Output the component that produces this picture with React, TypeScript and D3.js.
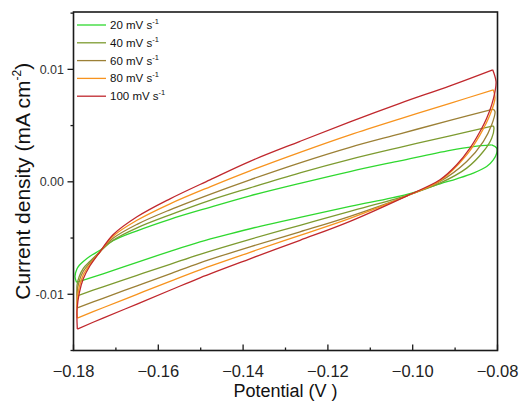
import React from 'react';
import * as d3 from 'd3';

type Pt = [number, number];

const scanRates = ['20', '40', '60', '80', '100'];
const colors = ['#2fd82f', '#7d9b30', '#9c8036', '#f7931e', '#c0282d'];
const xTicks = [-0.18, -0.16, -0.14, -0.12, -0.1, -0.08];
const xMinorTicks = [-0.17, -0.15, -0.13, -0.11, -0.09];
const yTicks = [-0.01, 0, 0.01];
const yMinorTicks = [-0.015, -0.005, 0.005, 0.015];

// 20 mV/s
const cv20Forward: Pt[] = [
  [-0.17929, -0.008933], [-0.17304, -0.008178], [-0.16502, -0.007156], [-0.15724, -0.006178],
  [-0.15017, -0.005333], [-0.14309, -0.004622], [-0.13601, -0.003956], [-0.12658, -0.003156],
  [-0.11479, -0.002178], [-0.10134, -0.001111], [-0.09356, -0.000178], [-0.08962, 0.000267],
  [-0.08571, 0.000773], [-0.08255, 0.00136], [-0.08099, 0.001956], [-0.08019, 0.002551],
  [-0.08019, 0.002996], [-0.08137, 0.003289],
];
const cv20Reverse: Pt[] = [
  [-0.08137, 0.003289], [-0.08571, 0.003138], [-0.0912, 0.0028], [-0.103, 0.001867],
  [-0.11479, 0.000916], [-0.12658, -0.000133], [-0.13837, -0.001244], [-0.14781, -0.002267],
  [-0.15724, -0.003333], [-0.16502, -0.004356], [-0.17068, -0.005244], [-0.17375, -0.006089],
  [-0.17611, -0.006622], [-0.17769, -0.007084], [-0.17863, -0.007422], [-0.17917, -0.007733],
  [-0.17965, -0.008418], [-0.17929, -0.008933],
];
// 40 mV/s
const cv40Forward: Pt[] = [
  [-0.1791, -0.010133], [-0.17304, -0.009333], [-0.16502, -0.008311], [-0.15724, -0.007333],
  [-0.15017, -0.006444], [-0.13837, -0.005111], [-0.12658, -0.003867], [-0.11479, -0.002622],
  [-0.10134, -0.0012], [-0.09356, -0.000116], [-0.08726, 0.001218], [-0.08335, 0.002693],
  [-0.08137, 0.003884], [-0.08083, 0.004773], [-0.08099, 0.004978],
];
const cv40Reverse: Pt[] = [
  [-0.08099, 0.004978], [-0.0912, 0.004089], [-0.103, 0.003067], [-0.11479, 0.002],
  [-0.12658, 0.0008], [-0.13837, -0.000533], [-0.14781, -0.001644], [-0.15724, -0.002933],
  [-0.16502, -0.004089], [-0.17068, -0.0052], [-0.17375, -0.006222], [-0.17611, -0.007067],
  [-0.17769, -0.007689], [-0.17863, -0.0084], [-0.17917, -0.0092], [-0.1791, -0.010133],
];
// 60 mV/s
const cv60Forward: Pt[] = [
  [-0.1791, -0.0112], [-0.17304, -0.010356], [-0.16502, -0.009244], [-0.15724, -0.008178],
  [-0.15017, -0.0072], [-0.13837, -0.005778], [-0.12658, -0.004444], [-0.11479, -0.003067],
  [-0.10134, -0.001244], [-0.09356, 0.000027], [-0.08726, 0.001804], [-0.08335, 0.003582],
  [-0.08137, 0.005067], [-0.08059, 0.006249], [-0.08099, 0.006462],
];
const cv60Reverse: Pt[] = [
  [-0.08099, 0.006462], [-0.0912, 0.005467], [-0.103, 0.004267], [-0.11479, 0.003067],
  [-0.12658, 0.001689], [-0.13837, 0.000178], [-0.14781, -0.001111], [-0.15724, -0.002489],
  [-0.16502, -0.003778], [-0.17068, -0.005022], [-0.17375, -0.006222], [-0.17611, -0.0072],
  [-0.17769, -0.007956], [-0.17863, -0.0088], [-0.17917, -0.009867], [-0.1791, -0.0112],
];
// 80 mV/s
const cv80Forward: Pt[] = [
  [-0.1791, -0.012116], [-0.17304, -0.0112], [-0.16502, -0.01], [-0.15724, -0.008844],
  [-0.15017, -0.007822], [-0.13837, -0.006267], [-0.12658, -0.004756], [-0.11479, -0.003244],
  [-0.10134, -0.001244], [-0.09356, 0.000089], [-0.08726, 0.0024], [-0.08412, 0.004178],
  [-0.08177, 0.005956], [-0.08059, 0.00744], [-0.08099, 0.008178],
];
const cv80Reverse: Pt[] = [
  [-0.08099, 0.008178], [-0.0912, 0.006978], [-0.103, 0.0056], [-0.11479, 0.004178],
  [-0.12658, 0.002622], [-0.13837, 0.000978], [-0.14781, -0.000444], [-0.15724, -0.001956],
  [-0.16502, -0.003422], [-0.17068, -0.004844], [-0.17375, -0.006222], [-0.17611, -0.007333],
  [-0.17769, -0.008267], [-0.17863, -0.009333], [-0.17917, -0.010667], [-0.1791, -0.012116],
];
// 100 mV/s
const cv100Forward: Pt[] = [
  [-0.1791, -0.013093], [-0.17304, -0.012116], [-0.16502, -0.010871], [-0.15724, -0.009644],
  [-0.15017, -0.008533], [-0.13837, -0.006844], [-0.12658, -0.0052], [-0.11479, -0.003511],
  [-0.10134, -0.001244], [-0.09356, 0.000178], [-0.08962, 0.001511], [-0.08649, 0.002996],
  [-0.08412, 0.004471], [-0.08255, 0.005662], [-0.08137, 0.006844], [-0.08059, 0.008027],
  [-0.08035, 0.008916], [-0.08113, 0.009956],
];
const cv100Reverse: Pt[] = [
  [-0.08113, 0.009956], [-0.0912, 0.008533], [-0.103, 0.006978], [-0.11479, 0.005333],
  [-0.12658, 0.0036], [-0.13837, 0.001822], [-0.14781, 0.000178], [-0.15724, -0.001511],
  [-0.16502, -0.003111], [-0.17068, -0.004711], [-0.17375, -0.006222], [-0.17611, -0.007467],
  [-0.17769, -0.008622], [-0.17863, -0.009867], [-0.17917, -0.011378], [-0.1791, -0.013093],
];

const loops: Pt[][][] = [
  [cv20Forward, cv20Reverse],
  [cv40Forward, cv40Reverse],
  [cv60Forward, cv60Reverse],
  [cv80Forward, cv80Reverse],
  [cv100Forward, cv100Reverse],
];

const W = 523;
const H = 407;
const L = 73.5, R = 497.5, T = 12, B = 350.5;
const font = 'Arial, "Liberation Sans", Helvetica, sans-serif';

export default function App() {
  const x = d3.scaleLinear().domain([-0.18, -0.08]).range([L, R]);
  const y = d3.scaleLinear().domain([-0.015, 0.0151]).range([B, T]);
  const line = d3
    .line<Pt>()
    .x((d) => x(d[0]))
    .y((d) => y(d[1]))
    .curve(d3.curveCatmullRom.alpha(0.5));
  const fx = d3.format('.2f');
  const fy = (v: number) => d3.format('.2f')(v).replace('\u2212', '-');
  const legendY = (i: number) => 25 + i * 17.8;

  return (
    <svg
      width={W}
      height={H}
      style={{ position: 'absolute', left: 0, top: 0, background: '#fff' }}
      fontFamily={font}
    >
      <rect x={0} y={0} width={W} height={H} fill="#fff" />
      {/* curves */}
      <g fill="none" strokeWidth={1.3} strokeLinejoin="round">
        {loops.map((branches, i) =>
          branches.map((b, j) => (
            <path key={`${i}-${j}`} d={line(b) || ''} stroke={colors[i]} />
          ))
        )}
      </g>
      {/* frame */}
      <rect x={L} y={T} width={R - L} height={B - T} fill="none" stroke="#1a1a1a" strokeWidth={1.6} />
      {/* x ticks (inward) */}
      {xTicks.map((t) => (
        <g key={`xt${t}`}>
          <line x1={x(t)} x2={x(t)} y1={B} y2={B - 6} stroke="#1a1a1a" strokeWidth={1.3} />
          <text x={x(t)} y={377} fontSize={16.5} textAnchor="middle" fill="#222">
            {fx(t)}
          </text>
        </g>
      ))}
      {xMinorTicks.map((t) => (
        <line key={`xm${t}`} x1={x(t)} x2={x(t)} y1={B} y2={B - 3} stroke="#1a1a1a" strokeWidth={1.3} />
      ))}
      {/* y ticks (outward) */}
      {yTicks.map((t) => (
        <g key={`yt${t}`}>
          <line x1={L - 6} x2={L} y1={y(t)} y2={y(t)} stroke="#1a1a1a" strokeWidth={1.3} />
          <text x={64} y={y(t) + 4.5} fontSize={12.5} textAnchor="end" fill="#333">
            {fy(t)}
          </text>
        </g>
      ))}
      {yMinorTicks.map((t) => (
        <line key={`ym${t}`} x1={L - 3} x2={L} y1={y(t)} y2={y(t)} stroke="#1a1a1a" strokeWidth={1.3} />
      ))}
      {/* axis titles */}
      <text x={(L + R) / 2} y={397} fontSize={18} textAnchor="middle" fill="#111">
        Potential (V )
      </text>
      <text
        transform={`translate(30, ${(T + B) / 2}) rotate(-90)`}
        fontSize={21}
        textAnchor="middle"
        fill="#111"
      >
        Current density (mA cm
        <tspan fontSize={12} dy={-9}>-2</tspan>
        <tspan dy={9}>)</tspan>
      </text>
      {/* legend */}
      {scanRates.map((s, i) => (
        <g key={`lg${s}`}>
          <line x1={77} x2={106} y1={legendY(i)} y2={legendY(i)} stroke={colors[i]} strokeWidth={1.3} />
          <text x={110} y={legendY(i) + 4} fontSize={11.5} fill="#111">
            {s} mV s
            <tspan fontSize={7.5} dy={-5}>-1</tspan>
          </text>
        </g>
      ))}
    </svg>
  );
}
